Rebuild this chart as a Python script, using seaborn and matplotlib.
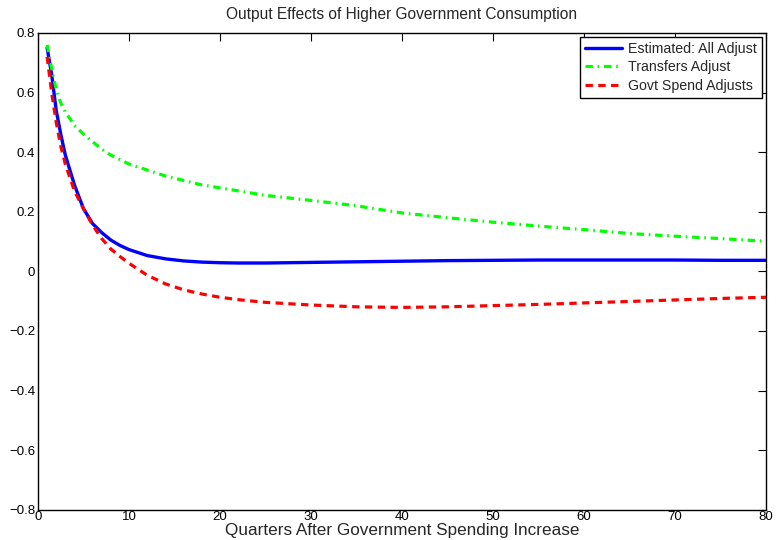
import pandas as pd
import matplotlib
matplotlib.use("Agg")
import matplotlib.pyplot as plt
import seaborn as sns

# Values
quarters = [1, 1.5, 2, 2.5, 3, 4, 5, 6, 7, 8, 9, 10, 12, 14, 16, 18, 20, 22, 25,
            30, 35, 40, 45, 50, 55, 60, 65, 70, 75, 80]
all_adjust = [0.75, 0.66, 0.54, 0.46, 0.39, 0.29, 0.21, 0.16, 0.13, 0.105, 0.087,
              0.073, 0.053, 0.042, 0.035, 0.031, 0.029, 0.028, 0.028,
              0.030, 0.032, 0.034, 0.036, 0.037, 0.038, 0.038, 0.038, 0.038, 0.037, 0.037]
transfers_adjust = [0.76, 0.68, 0.61, 0.565, 0.535, 0.49, 0.46, 0.435, 0.41, 0.39, 0.375,
                    0.36, 0.34, 0.32, 0.305, 0.29, 0.28, 0.27, 0.255,
                    0.238, 0.22, 0.196, 0.18, 0.165, 0.152, 0.14, 0.127, 0.118, 0.11, 0.101]
govt_adjusts = [0.72, 0.60, 0.50, 0.42, 0.36, 0.27, 0.21, 0.155, 0.11, 0.075, 0.05,
                0.027, -0.013, -0.042, -0.062, -0.076, -0.087, -0.095, -0.104,
                -0.113, -0.119, -0.121, -0.119, -0.115, -0.111, -0.106, -0.101, -0.096, -0.091, -0.087]
labels = ["Estimated: All Adjust", "Transfers Adjust", "Govt Spend Adjusts"]
x_ticks = [0, 10, 20, 30, 40, 50, 60, 70, 80]
y_ticks = [-0.8, -0.6, -0.4, -0.2, 0, 0.2, 0.4, 0.6, 0.8]

df = pd.DataFrame({"q": quarters, "all": all_adjust,
                   "transfers": transfers_adjust, "govt": govt_adjusts})

sns.set_style("white")
plt.rcParams['font.family'] = ['Liberation Sans', 'DejaVu Sans']
plt.rcParams['axes.unicode_minus'] = True

fig = plt.figure(figsize=(7.76, 5.40), dpi=100)
ax = fig.add_axes([0.049, 0.056, 0.938, 0.883])

sns.lineplot(data=df, x="q", y="all", ax=ax, color=(0, 0, 1), linewidth=2.4,
             label=labels[0])
sns.lineplot(data=df, x="q", y="transfers", ax=ax, color=(0, 1, 0), linewidth=2.3,
             label=labels[1], linestyle=(0, (2.3, 1.5, 0.5, 1.5)))
sns.lineplot(data=df, x="q", y="govt", ax=ax, color=(1, 0, 0), linewidth=2.3,
             label=labels[2], linestyle=(0, (2.3, 1.7)))

ax.set_xlim(0, 80)
ax.set_ylim(-0.8, 0.8)
ax.set_xticks(x_ticks)
ax.set_yticks(y_ticks)
ax.set_xticklabels([str(t) for t in x_ticks])
ax.set_yticklabels(["0" if t == 0 else f"{t:g}".replace("-", "\u2212") for t in y_ticks])
ax.tick_params(direction="in", length=6, width=0.8, top=True, right=True,
               labelsize=9.5, colors="black")
ax.tick_params(axis="x", pad=1)
ax.tick_params(axis="y", pad=2)
for s in ax.spines.values():
    s.set_color("black")
    s.set_linewidth(1.0)

ax.set_title("Output Effects of Higher Government Consumption", fontsize=11.2, pad=10)
ax.set_xlabel("Quarters After Government Spending Increase", fontsize=12.3, labelpad=0)
ax.set_ylabel("")

leg = ax.legend(loc="upper right", fontsize=10.2, frameon=True, fancybox=False,
                edgecolor="black", framealpha=1, borderpad=0.35, labelspacing=0.3,
                handlelength=2.6, handletextpad=0.4, borderaxespad=0.3)
leg.get_frame().set_linewidth(1.0)

fig.savefig("out.png", dpi=100)
